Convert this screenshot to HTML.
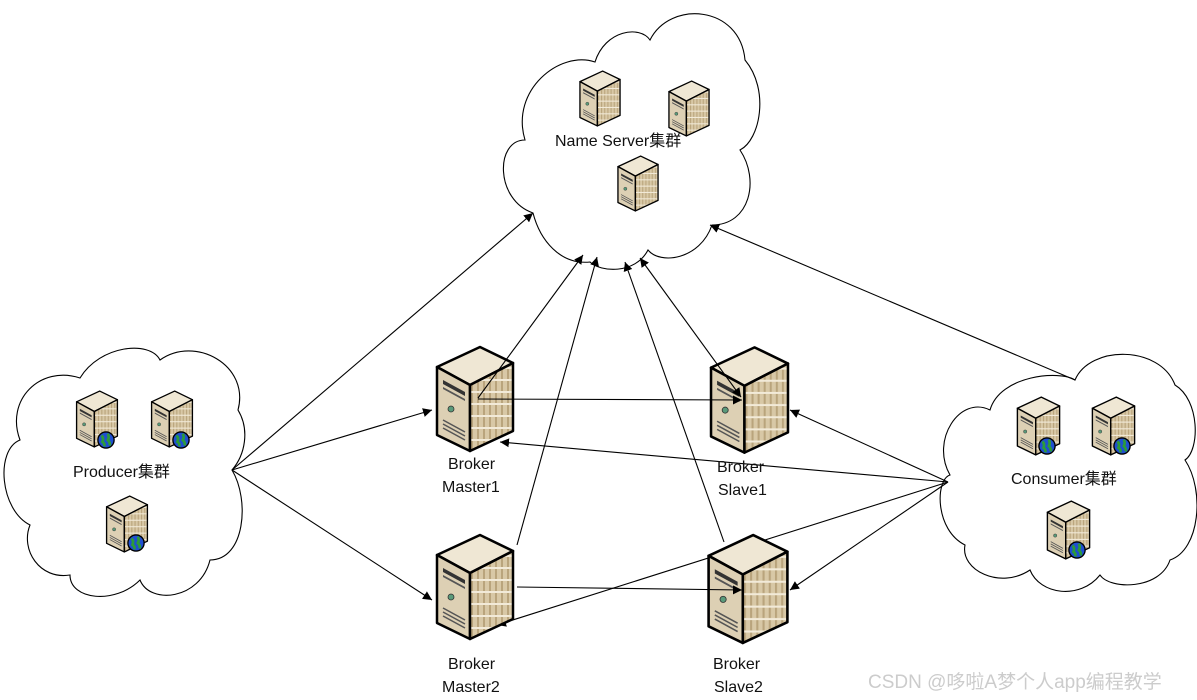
<!DOCTYPE html>
<html><head><meta charset="utf-8"><style>
html,body{margin:0;padding:0;background:#fff;}
svg{display:block;}
text{font-family:"Liberation Sans","Noto Sans CJK SC",sans-serif;font-size:16px;fill:#111;}
</style></head><body>
<svg width="1197" height="700" viewBox="0 0 1197 700" xmlns="http://www.w3.org/2000/svg">
<defs>
<marker id="ar" viewBox="0 0 10 10" refX="10" refY="5" markerWidth="9" markerHeight="9" orient="auto-start-reverse" markerUnits="userSpaceOnUse"><path d="M0,0 L10,5 L0,10 z" fill="#000"/></marker>
<pattern id="st" width="6" height="12" patternUnits="userSpaceOnUse"><rect width="6" height="12" fill="#d8c8a6"/><rect width="2" height="12" fill="#b9a47c"/><rect y="10" width="6" height="2" fill="#f2ead8"/></pattern>
<symbol id="srv" viewBox="0 0 80 108">
<polygon points="2,22 45,2 78,18 35,40" fill="#efe7d4" stroke="#000" stroke-width="2.5" stroke-linejoin="round"/>
<polygon points="2,22 35,40 35,106 2,90" fill="#ddd0b4" stroke="#000" stroke-width="2.5" stroke-linejoin="round"/>
<polygon points="35,40 78,18 78,86 35,106" fill="url(#st)" stroke="#000" stroke-width="2.5" stroke-linejoin="round"/>
<polygon points="8,35 30,47 30,51 8,39" fill="#333"/>
<polygon points="8,42 30,54 30,56 8,44" fill="#555"/>
<circle cx="16" cy="64" r="3" fill="#5a9a7a" stroke="#333" stroke-width="0.8"/>
<path d="M8,75 L30,87 M8,79 L30,91 M8,83 L30,95" stroke="#555" stroke-width="1.5"/>
</symbol>
<symbol id="glb" viewBox="0 0 20 20">
<circle cx="10" cy="10" r="9" fill="#1f4fd0" stroke="#000" stroke-width="1.5"/>
<path d="M5,5 Q8,8 6,12 Q9,14 8,17 M12,3 Q14,7 12,10 Q15,13 14,16" stroke="#2c9a3a" stroke-width="3" fill="none"/>
</symbol>
</defs>

<g fill="#fff" stroke="#000" stroke-width="1.1">
<path d="M533,213 C495,200 495,140 525,140 C510,90 560,50 595,62 C605,30 640,25 650,40 C670,0 740,5 745,60 C770,90 760,140 740,150 C760,180 750,225 712,225 C700,260 660,265 648,250 C635,275 600,272 590,262 C560,265 540,240 533,213 Z"/>
<path d="M30,525 C0,510 -5,450 20,440 C5,400 40,365 80,378 C100,345 150,340 160,360 C195,335 250,365 238,410 C250,430 245,455 232,470 C250,500 245,560 210,560 C200,600 150,605 140,580 C115,605 70,600 70,575 C40,580 20,550 30,525 Z"/>
<path d="M965,545 C935,530 935,480 950,475 C930,440 960,395 990,410 C1000,375 1060,370 1075,380 C1090,345 1160,345 1175,385 C1200,400 1200,450 1185,460 C1205,490 1200,550 1170,560 C1160,590 1110,590 1100,575 C1080,600 1040,595 1030,570 C1000,590 960,570 965,545 Z"/>
</g>

<g stroke="#000" stroke-width="1.1" fill="none">
<line x1="232" y1="470" x2="533" y2="213" marker-end="url(#ar)"/>
<line x1="232" y1="470" x2="432" y2="410" marker-end="url(#ar)"/>
<line x1="232" y1="470" x2="432" y2="600" marker-end="url(#ar)"/>
<line x1="1075" y1="380" x2="710" y2="225" marker-end="url(#ar)"/>
<line x1="948" y1="482" x2="790" y2="410" marker-end="url(#ar)"/>
<line x1="948" y1="482" x2="500" y2="442" marker-end="url(#ar)"/>
<line x1="948" y1="482" x2="790" y2="590" marker-end="url(#ar)"/>
<line x1="948" y1="482" x2="497" y2="625" marker-end="url(#ar)"/>
</g>

<use href="#srv" x="578" y="70" width="44" height="57"/>
<use href="#srv" x="667" y="80" width="44" height="57"/>
<use href="#srv" x="616" y="155" width="44" height="57"/>

<use href="#srv" x="75" y="390" width="44" height="58"/>
<use href="#srv" x="150" y="390" width="44" height="58"/>
<use href="#srv" x="105" y="495" width="44" height="58"/>
<use href="#glb" x="97" y="431" width="18" height="18"/>
<use href="#glb" x="172" y="431" width="18" height="18"/>
<use href="#glb" x="127" y="534" width="18" height="18"/>

<use href="#srv" x="1016" y="396" width="45" height="60"/>
<use href="#srv" x="1091" y="396" width="45" height="60"/>
<use href="#srv" x="1046" y="500" width="45" height="60"/>
<use href="#glb" x="1038" y="437" width="18" height="18"/>
<use href="#glb" x="1113" y="437" width="18" height="18"/>
<use href="#glb" x="1068" y="541" width="18" height="18"/>

<use href="#srv" x="435" y="345" width="80" height="108"/>
<use href="#srv" x="709" y="345" width="81" height="110"/>
<use href="#srv" x="435" y="533" width="80" height="108"/>
<use href="#srv" x="706" y="533" width="84" height="112"/>

<g stroke="#000" stroke-width="1.1" fill="none">
<line x1="478" y1="398" x2="583" y2="255" marker-end="url(#ar)"/>
<line x1="517" y1="545" x2="597" y2="257" marker-end="url(#ar)"/>
<line x1="724" y1="542" x2="625" y2="262" marker-end="url(#ar)"/>
<line x1="741" y1="397" x2="640" y2="258" marker-end="url(#ar)" marker-start="url(#ar)"/>
<line x1="478" y1="399" x2="742" y2="400" marker-end="url(#ar)"/>
<line x1="517" y1="587" x2="742" y2="590" marker-end="url(#ar)"/>
</g>

<text x="555" y="146">Name Server集群</text>
<text x="73" y="477">Producer集群</text>
<text x="1011" y="484">Consumer集群</text>
<text x="448" y="469">Broker</text>
<text x="442" y="492">Master1</text>
<text x="717" y="472">Broker</text>
<text x="718" y="495">Slave1</text>
<text x="448" y="669">Broker</text>
<text x="442" y="692">Master2</text>
<text x="713" y="669">Broker</text>
<text x="714" y="692">Slave2</text>
<text x="868" y="688" style="font-size:19px;fill:#ccc">CSDN @哆啦A梦个人app编程教学</text>
</svg>
</body></html>
